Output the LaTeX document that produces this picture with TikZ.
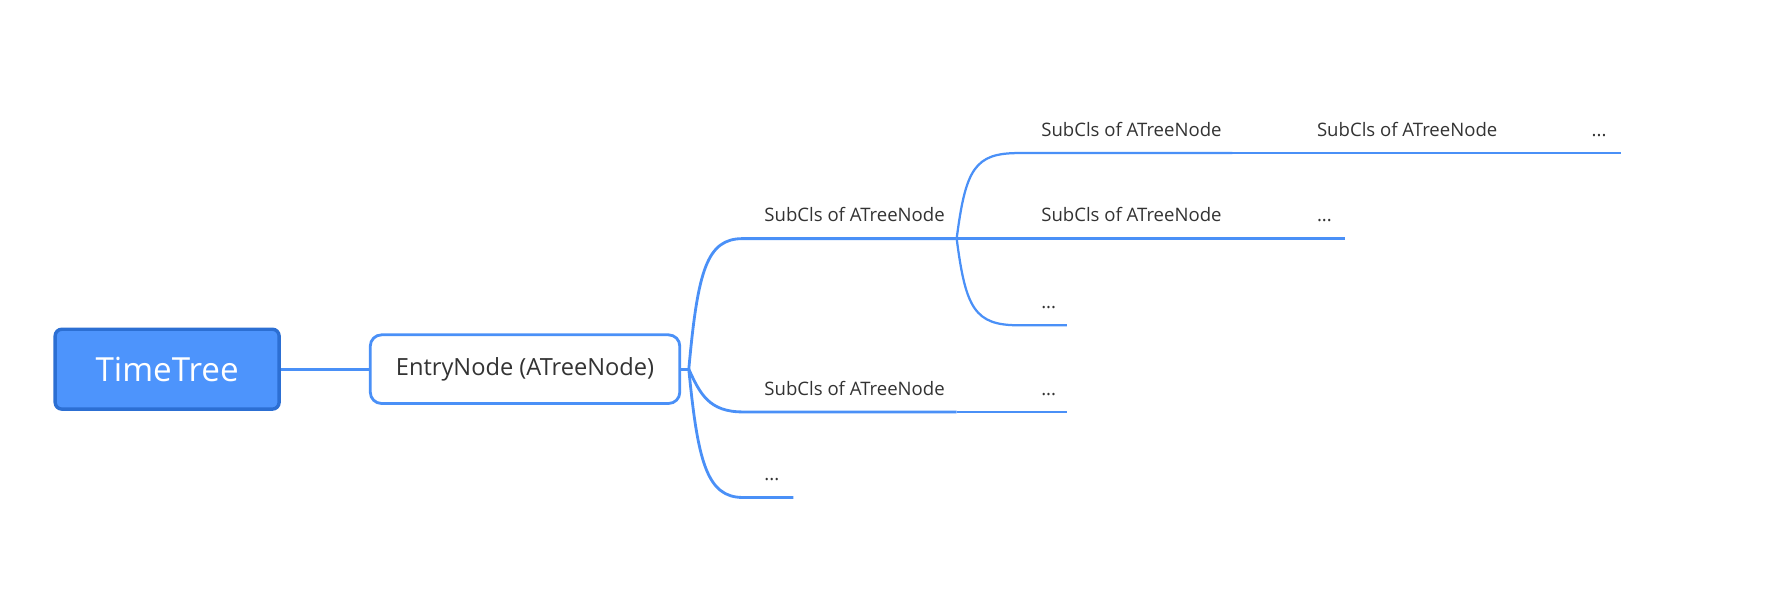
\documentclass[tikz,border=0pt]{standalone}
\usepackage{fontspec}
\setmainfont{Open Sans}
\definecolor{lineblue}{HTML}{4A90F7}
\definecolor{rootfill}{HTML}{4D94FC}
\definecolor{rootdraw}{HTML}{2C6FD3}
\definecolor{txt}{HTML}{333333}
\begin{document}
\begin{tikzpicture}[x=1pt,y=-1pt,
  rootbox/.style={draw=rootdraw, fill=rootfill, line width=3pt, rounded corners=6pt,
    minimum width=199pt, minimum height=71pt, inner sep=0pt, text=white,
    font=\fontsize{29.5}{34}\selectfont},
  entrybox/.style={draw=lineblue, fill=white, line width=2.5pt, rounded corners=10pt,
    minimum width=275pt, minimum height=61pt, inner sep=0pt, text=txt,
    font=\fontsize{21}{24}\selectfont},
  lbl/.style={anchor=base west, inner sep=0pt, text=txt, font=\fontsize{16.5}{19}\selectfont},
  conn/.style={draw=lineblue, line width=2.5pt},
  thin/.style={draw=lineblue, line width=2pt}
]
\useasboundingbox (0,0) rectangle (1570,547);

% main nodes
\node[rootbox] (root) at (148.5,328) {TimeTree};
\node[entrybox] (entry) at (466.5,328) {EntryNode (ATreeNode)};

% coordinates
\coordinate (j0) at (612,328);
\coordinate (b1s) at (660,212); \coordinate (b1e) at (850,212);
\coordinate (b2s) at (660,366); \coordinate (b2e) at (850,366);
\coordinate (b3s) at (660,442); \coordinate (b3e) at (705,442);
\coordinate (c1s) at (905,136); \coordinate (c1e) at (1095,136);
\coordinate (c2e) at (1095,212);
\coordinate (c3s) at (905,289); \coordinate (c3e) at (948,289);
\coordinate (b2ce) at (948,366);
\coordinate (d1e) at (1340,136);
\coordinate (e1e) at (1440,136);
\coordinate (d2e) at (1195,212);

% labels
\node[lbl] (lb1) at (679,197) {SubCls of ATreeNode};
\node[lbl] (lb2) at (679,351) {SubCls of ATreeNode};
\node[lbl] (lb3) at (679,427) {...};
\node[lbl] (lc1) at (925,121) {SubCls of ATreeNode};
\node[lbl] (lc2) at (925,197) {SubCls of ATreeNode};
\node[lbl] (lc3) at (925,274) {...};
\node[lbl] (lb2c) at (925,351) {...};
\node[lbl] (ld1) at (1170,121) {SubCls of ATreeNode};
\node[lbl] (le1) at (1414,121) {...};
\node[lbl] (ld2) at (1170,197) {...};

% connectors
\draw[conn] (root.east) -- (entry.west);
\draw[conn] (entry.east) -- (j0);
\draw[conn] (j0) .. controls (620,240) and (628,212) .. (b1s) -- (b1e);
\draw[conn] (j0) .. controls (622,350) and (630,366) .. (b2s) -- (b2e);
\draw[conn] (j0) .. controls (620,410) and (628,442) .. (b3s) -- (b3e);
\draw[thin] (b1e) .. controls (858,150) and (866,136) .. (c1s) -- (c1e);
\draw[thin] (b1e) -- (c2e);
\draw[thin] (b1e) .. controls (858,274) and (866,289) .. (c3s) -- (c3e);
\draw[thin] (b2e) -- (b2ce);
\draw[thin] (c1e) -- (d1e) -- (e1e);
\draw[thin] (c2e) -- (d2e);
\end{tikzpicture}
\end{document}
